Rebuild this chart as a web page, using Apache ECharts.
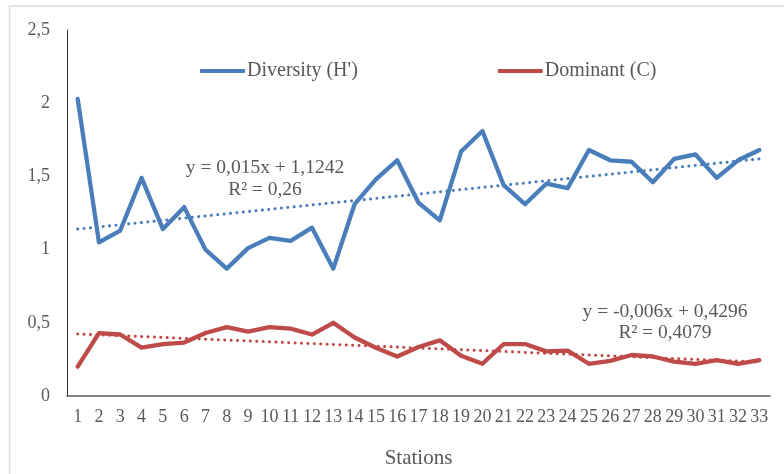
<!DOCTYPE html>
<html>
<head>
<meta charset="utf-8">
<script src="https://cdn.jsdelivr.net/npm/echarts@6/dist/echarts.min.js"></script>
<style>
html,body{margin:0;padding:0;background:#fff;}
#c{width:784px;height:474px;}
</style>
</head>
<body>
<div id="c"></div>
<script>
const stations = ['1','2','3','4','5','6','7','8','9','10','11','12','13','14','15','16','17','18','19','20','21','22','23','24','25','26','27','28','29','30','31','32','33'];
const diversity = [2.03,1.05,1.13,1.49,1.14,1.29,1.00,0.87,1.01,1.08,1.06,1.15,0.87,1.31,1.48,1.61,1.32,1.20,1.67,1.81,1.44,1.31,1.45,1.42,1.68,1.61,1.60,1.46,1.62,1.65,1.49,1.61,1.68];
const dominant = [0.20,0.43,0.42,0.33,0.355,0.365,0.43,0.47,0.44,0.47,0.46,0.42,0.50,0.40,0.33,0.27,0.335,0.38,0.275,0.22,0.355,0.355,0.305,0.31,0.22,0.24,0.28,0.27,0.235,0.22,0.245,0.22,0.245];
const diversityTrend = [1.14, 1.62];
const dominantTrend = [0.424, 0.232];
const yTicks = [0, 0.5, 1, 1.5, 2, 2.5];
const eqDiversity = ['y = 0,015x + 1,1242', 'R² = 0,26'];
const eqDominant = ['y = -0,006x + 0,4296', 'R² = 0,4079'];

const FONT = '"Liberation Serif","DejaVu Serif",serif';
const TXT = '#595959';
const BLUE = '#4a7ebb';
const RED = '#be4b48';

const chart = echarts.init(document.getElementById('c'), null, {renderer:'canvas'});
const first = stations[0], last = stations[stations.length-1];
chart.setOption({
  animation:false,
  backgroundColor:'#fff',
  textStyle:{fontFamily:FONT},
  grid:{left:67,right:14,top:30,bottom:71,containLabel:false},
  legend:{
    data:["Diversity (H')","Dominant (C)"],
    left:195, top:56,
    icon:'roundRect', itemWidth:45, itemHeight:4, itemGap:140,
    textStyle:{fontFamily:FONT,fontSize:20,color:TXT,padding:[0,0,0,-3]}
  },
  xAxis:{
    type:'category', data:stations, boundaryGap:true,
    name:'Stations', nameLocation:'middle', nameGap:52,
    nameTextStyle:{fontFamily:FONT,fontSize:21,color:TXT},
    axisLine:{lineStyle:{color:'#595959',width:1.5}},
    axisTick:{show:false},
    axisLabel:{interval:0,fontFamily:FONT,fontSize:18,color:TXT,margin:12}
  },
  yAxis:{
    type:'value', min:yTicks[0], max:yTicks[yTicks.length-1], interval:0.5,
    splitLine:{show:false},
    axisLine:{show:true,lineStyle:{color:'#333',width:1}},
    axisTick:{show:false},
    axisLabel:{fontFamily:FONT,fontSize:18,color:TXT,margin:17,
      formatter:v=>String(v).replace('.',',')}
  },
  series:[
    {name:"Diversity (H')",type:'line',data:diversity,symbol:'none',
     lineStyle:{color:BLUE,width:4.3,cap:'round',join:'round'},itemStyle:{color:BLUE},z:3},
    {name:"Dominant (C)",type:'line',data:dominant,symbol:'none',
     lineStyle:{color:RED,width:4.3,cap:'round',join:'round'},itemStyle:{color:RED},z:3},
    {name:'trendH',type:'line',data:[[first,diversityTrend[0]],[last,diversityTrend[1]]],symbol:'none',
     lineStyle:{color:BLUE,width:3,type:[0.1,6.3],cap:'round'},z:2,silent:true},
    {name:'trendC',type:'line',data:[[first,dominantTrend[0]],[last,dominantTrend[1]]],symbol:'none',
     lineStyle:{color:RED,width:3,type:[0.1,6.3],cap:'round'},z:2,silent:true}
  ],
  graphic:[
    {type:'rect',shape:{x:9.5,y:6,width:820,height:520},style:{fill:'none',stroke:'#dcdcdc',lineWidth:1.5},silent:true,z:-10},
    {type:'text',x:265,y:168,style:{text:eqDiversity[0],fontFamily:FONT,fontSize:19.5,fill:TXT,align:'center',verticalAlign:'middle'}},
    {type:'text',x:265,y:190,style:{text:eqDiversity[1],fontFamily:FONT,fontSize:19.5,fill:TXT,align:'center',verticalAlign:'middle'}},
    {type:'text',x:665,y:312,style:{text:eqDominant[0],fontFamily:FONT,fontSize:19.5,fill:TXT,align:'center',verticalAlign:'middle'}},
    {type:'text',x:665,y:333,style:{text:eqDominant[1],fontFamily:FONT,fontSize:19.5,fill:TXT,align:'center',verticalAlign:'middle'}}
  ]
});
</script>
</body>
</html>
